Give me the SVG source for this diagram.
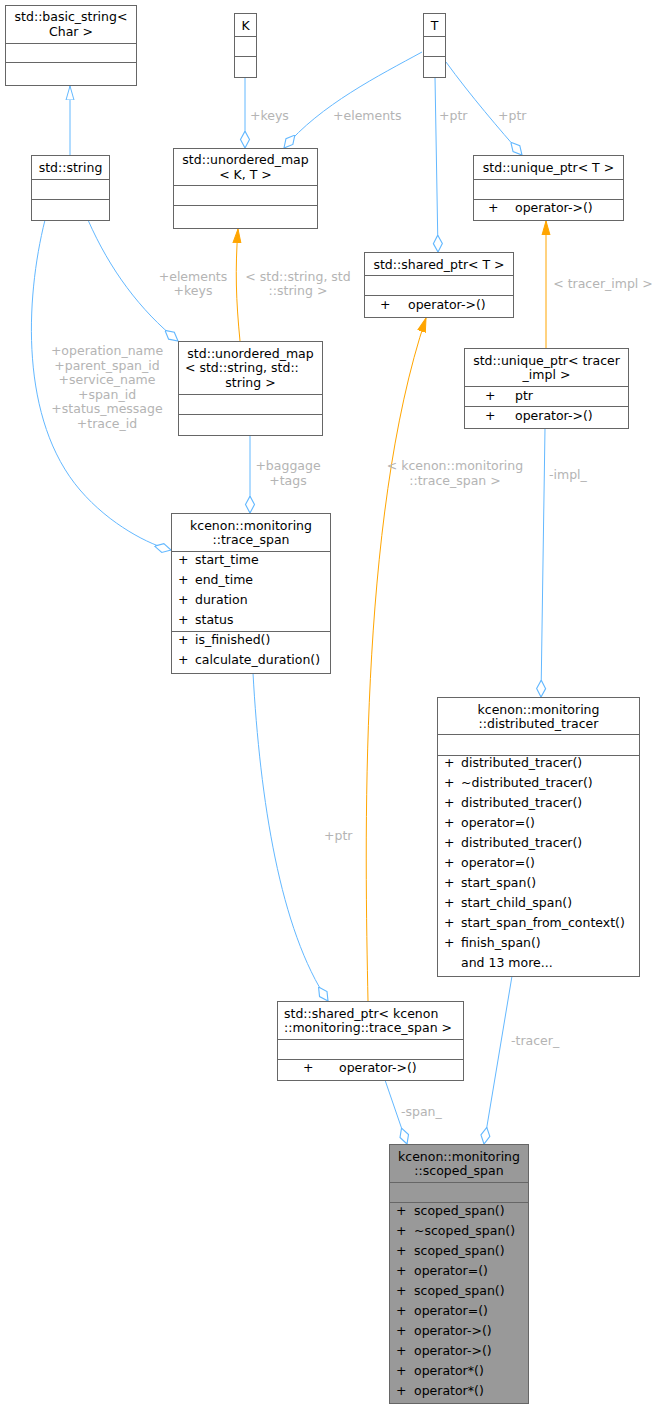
<svg xmlns="http://www.w3.org/2000/svg" width="661" height="1409" viewBox="0 0 661 1409">
<style>
text{font-family:"DejaVu Sans",sans-serif;font-size:12.5px;fill:#000}
.c{text-anchor:middle}
.l{fill:#b4b4b4}
rect{fill:#fff;stroke:#666;stroke-width:1}
.dk rect{fill:#999}
line.d{stroke:#666;stroke-width:1}
.e{fill:none;stroke:#63b8ff;stroke-width:1}
.o{fill:none;stroke:#ffa500;stroke-width:1}
</style>
<defs>
<marker id="dia" markerUnits="userSpaceOnUse" markerWidth="18" markerHeight="12" refX="15" refY="5" orient="auto" viewBox="0 0 16 10">
<path d="M0,5 L7.5,1 L15,5 L7.5,9 Z" fill="#fff" stroke="#63b8ff" stroke-width="1"/>
</marker>
<marker id="inh" markerUnits="userSpaceOnUse" markerWidth="16" markerHeight="12" refX="14" refY="5" orient="auto" viewBox="0 0 16 10">
<path d="M0,1 L14,5 L0,9 Z" fill="#fff" stroke="#63b8ff" stroke-width="1"/>
</marker>
<marker id="arr" markerUnits="userSpaceOnUse" markerWidth="16" markerHeight="12" refX="14" refY="5" orient="auto" viewBox="0 0 16 10">
<path d="M0,1 L14,5 L0,9 Z" fill="#ffa500" stroke="#ffa500" stroke-width="1"/>
</marker>
</defs>
<g id="edges">
<path class="e" d="M70,155 L70,86" marker-end="url(#inh)"/>
<path class="e" d="M245,77 L245,148" marker-end="url(#dia)"/>
<path class="e" d="M422,52 C380,75 320,105 284,148" marker-end="url(#dia)"/>
<path class="e" d="M435,77 L438,252" marker-end="url(#dia)"/>
<path class="e" d="M446,62 C470,95 500,130 522,155" marker-end="url(#dia)"/>
<path class="e" d="M45,220 C25,300 20,420 80,490 C110,525 150,545 171,550" marker-end="url(#dia)"/>
<path class="e" d="M88,220 C110,270 140,310 178,341" marker-end="url(#dia)"/>
<path class="o" d="M240,341 C236,300 235,270 238,229" marker-end="url(#arr)"/>
<path class="e" d="M250,435 L250,513" marker-end="url(#dia)"/>
<path class="o" d="M368,1001 C365,850 358,520 426,318" marker-end="url(#arr)"/>
<path class="o" d="M546,348 L546,221" marker-end="url(#arr)"/>
<path class="e" d="M545,428 L541,697" marker-end="url(#dia)"/>
<path class="e" d="M253,673 C260,800 280,930 328,1001" marker-end="url(#dia)"/>
<path class="e" d="M385,1080 L407,1144" marker-end="url(#dia)"/>
<path class="e" d="M512,976 L484,1144" marker-end="url(#dia)"/>
<text class="l" x="250" y="120">+keys</text>
<text class="l" x="333" y="120">+elements</text>
<text class="l" x="439" y="120">+ptr</text>
<text class="l" x="498" y="120">+ptr</text>
<text class="l c" x="193" y="281">+elements</text>
<text class="l c" x="193" y="295">+keys</text>
<text class="l c" x="298" y="281">&lt; std::string, std</text>
<text class="l c" x="298" y="295">::string &gt;</text>
<text class="l c" x="603" y="288">&lt; tracer_impl &gt;</text>
<text class="l c" x="107" y="355">+operation_name</text>
<text class="l c" x="107" y="370">+parent_span_id</text>
<text class="l c" x="107" y="384">+service_name</text>
<text class="l c" x="107" y="399">+span_id</text>
<text class="l c" x="107" y="413">+status_message</text>
<text class="l c" x="107" y="428">+trace_id</text>
<text class="l c" x="288" y="470">+baggage</text>
<text class="l c" x="288" y="485">+tags</text>
<text class="l c" x="455" y="470">&lt; kcenon::monitoring</text>
<text class="l c" x="455" y="485">::trace_span &gt;</text>
<text class="l" x="549" y="479">-impl_</text>
<text class="l" x="324" y="840">+ptr</text>
<text class="l" x="511" y="1045">-tracer_</text>
<text class="l" x="401" y="1116">-span_</text>
</g>
<g id="basic_string">
<rect x="5.5" y="5.5" width="131" height="80"/>
<line class="d" x1="5.5" y1="43.5" x2="136.5" y2="43.5"/><line class="d" x1="5.5" y1="62.5" x2="136.5" y2="62.5"/>
<text class="c" x="71" y="21">std::basic_string&lt;</text><text class="c" x="71" y="36">Char &gt;</text>
</g>
<g id="K">
<rect x="234.5" y="13.5" width="22" height="64"/>
<line class="d" x1="234.5" y1="36.5" x2="256.5" y2="36.5"/><line class="d" x1="234.5" y1="56.5" x2="256.5" y2="56.5"/>
<text class="c" x="245.5" y="30">K</text>
</g>
<g id="T">
<rect x="423.5" y="13.5" width="22" height="64"/>
<line class="d" x1="423.5" y1="36.5" x2="445.5" y2="36.5"/><line class="d" x1="423.5" y1="56.5" x2="445.5" y2="56.5"/>
<text class="c" x="434.5" y="30">T</text>
</g>
<g id="string">
<rect x="31.5" y="155.5" width="78" height="65"/>
<line class="d" x1="31.5" y1="179.5" x2="109.5" y2="179.5"/><line class="d" x1="31.5" y1="199.5" x2="109.5" y2="199.5"/>
<text class="c" x="70.5" y="172">std::string</text>
</g>
<g id="umap_KT">
<rect x="173.5" y="148.5" width="144" height="80"/>
<line class="d" x1="173.5" y1="185.5" x2="317.5" y2="185.5"/><line class="d" x1="173.5" y1="205.5" x2="317.5" y2="205.5"/>
<text class="c" x="245.5" y="164">std::unordered_map</text><text class="c" x="245.5" y="179">&lt; K, T &gt;</text>
</g>
<g id="unique_ptr_T">
<rect x="473.5" y="155.5" width="150" height="65"/>
<line class="d" x1="473.5" y1="179.5" x2="623.5" y2="179.5"/><line class="d" x1="473.5" y1="199.5" x2="623.5" y2="199.5"/>
<text class="c" x="548.5" y="172">std::unique_ptr&lt; T &gt;</text>
<text x="488" y="212">+</text><text x="515" y="212">operator-&gt;()</text>
</g>
<g id="shared_ptr_T">
<rect x="364.5" y="252.5" width="149" height="65"/>
<line class="d" x1="364.5" y1="275.5" x2="513.5" y2="275.5"/><line class="d" x1="364.5" y1="295.5" x2="513.5" y2="295.5"/>
<text class="c" x="439" y="269">std::shared_ptr&lt; T &gt;</text>
<text x="380" y="309">+</text><text x="408" y="309">operator-&gt;()</text>
</g>
<g id="umap_ss">
<rect x="178.5" y="341.5" width="144" height="94"/>
<line class="d" x1="178.5" y1="394.5" x2="322.5" y2="394.5"/><line class="d" x1="178.5" y1="414.5" x2="322.5" y2="414.5"/>
<text class="c" x="250.5" y="358">std::unordered_map</text><text x="185" y="372">&lt; std::string, std::</text><text class="c" x="250.5" y="387">string &gt;</text>
</g>
<g id="unique_ptr_impl">
<rect x="464.5" y="348.5" width="164" height="80"/>
<line class="d" x1="464.5" y1="386.5" x2="628.5" y2="386.5"/><line class="d" x1="464.5" y1="406.5" x2="628.5" y2="406.5"/>
<text class="c" x="546.5" y="365">std::unique_ptr&lt; tracer</text><text class="c" x="546.5" y="379">_impl &gt;</text>
<text x="485" y="400">+</text><text x="515" y="400">ptr</text>
<text x="485" y="420">+</text><text x="515" y="420">operator-&gt;()</text>
</g>
<g id="trace_span">
<rect x="171.5" y="513.5" width="159" height="160"/>
<line class="d" x1="171.5" y1="551.5" x2="330.5" y2="551.5"/><line class="d" x1="171.5" y1="631.5" x2="330.5" y2="631.5"/>
<text class="c" x="251" y="530">kcenon::monitoring</text><text class="c" x="251" y="544">::trace_span</text>
<text x="178" y="564">+</text><text x="195" y="564">start_time</text>
<text x="178" y="584">+</text><text x="195" y="584">end_time</text>
<text x="178" y="604">+</text><text x="195" y="604">duration</text>
<text x="178" y="624">+</text><text x="195" y="624">status</text>
<text x="178" y="644">+</text><text x="195" y="644">is_finished()</text>
<text x="178" y="664">+</text><text x="195" y="664">calculate_duration()</text>
</g>
<g id="distributed_tracer">
<rect x="437.5" y="697.5" width="202" height="279"/>
<line class="d" x1="437.5" y1="734.5" x2="639.5" y2="734.5"/><line class="d" x1="437.5" y1="755.5" x2="639.5" y2="755.5"/>
<text class="c" x="538.5" y="714">kcenon::monitoring</text><text class="c" x="538.5" y="728">::distributed_tracer</text>
<text x="444" y="767">+</text><text x="461" y="767">distributed_tracer()</text>
<text x="444" y="787">+</text><text x="461" y="787">~distributed_tracer()</text>
<text x="444" y="807">+</text><text x="461" y="807">distributed_tracer()</text>
<text x="444" y="827">+</text><text x="461" y="827">operator=()</text>
<text x="444" y="847">+</text><text x="461" y="847">distributed_tracer()</text>
<text x="444" y="867">+</text><text x="461" y="867">operator=()</text>
<text x="444" y="887">+</text><text x="461" y="887">start_span()</text>
<text x="444" y="907">+</text><text x="461" y="907">start_child_span()</text>
<text x="444" y="927">+</text><text x="461" y="927">start_span_from_context()</text>
<text x="444" y="947">+</text><text x="461" y="947">finish_span()</text>
<text x="461" y="967">and 13 more...</text>
</g>
<g id="shared_ptr_ts">
<rect x="277.5" y="1001.5" width="186" height="79"/>
<line class="d" x1="277.5" y1="1039.5" x2="463.5" y2="1039.5"/><line class="d" x1="277.5" y1="1059.5" x2="463.5" y2="1059.5"/>
<text x="284" y="1018">std::shared_ptr&lt; kcenon</text><text x="284" y="1032">::monitoring::trace_span &gt;</text>
<text x="303" y="1072">+</text><text x="339" y="1072">operator-&gt;()</text>
</g>
<g id="scoped_span" class="dk">
<rect x="389.5" y="1144.5" width="139" height="259"/>
<line class="d" x1="389.5" y1="1182.5" x2="528.5" y2="1182.5"/><line class="d" x1="389.5" y1="1202.5" x2="528.5" y2="1202.5"/>
<text class="c" x="459" y="1161">kcenon::monitoring</text><text class="c" x="459" y="1175">::scoped_span</text>
<text x="396" y="1215">+</text><text x="414" y="1215">scoped_span()</text>
<text x="396" y="1235">+</text><text x="414" y="1235">~scoped_span()</text>
<text x="396" y="1255">+</text><text x="414" y="1255">scoped_span()</text>
<text x="396" y="1275">+</text><text x="414" y="1275">operator=()</text>
<text x="396" y="1295">+</text><text x="414" y="1295">scoped_span()</text>
<text x="396" y="1315">+</text><text x="414" y="1315">operator=()</text>
<text x="396" y="1335">+</text><text x="414" y="1335">operator-&gt;()</text>
<text x="396" y="1355">+</text><text x="414" y="1355">operator-&gt;()</text>
<text x="396" y="1375">+</text><text x="414" y="1375">operator*()</text>
<text x="396" y="1395">+</text><text x="414" y="1395">operator*()</text>
</g>
</svg>
